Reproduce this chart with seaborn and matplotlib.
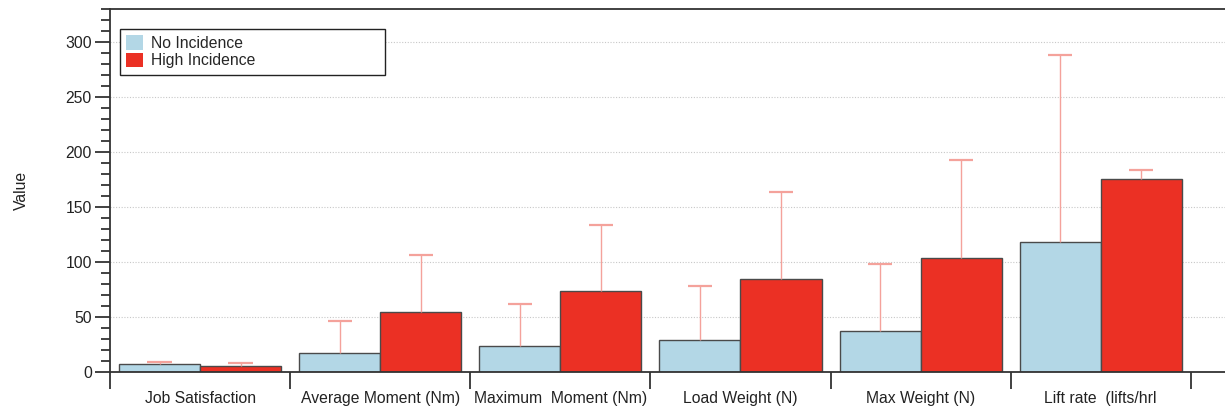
import matplotlib
matplotlib.use("Agg")
import matplotlib.pyplot as plt
import seaborn as sns
import pandas as pd
import numpy as np
from matplotlib.ticker import FixedLocator, MultipleLocator, NullFormatter

categories = ["Job Satisfaction", "Average Moment (Nm)", "Maximum  Moment (Nm)",
              "Load Weight (N)", "Max Weight (N)", "Lift rate  (lifts/hrl"]
groups = ["No Incidence", "High Incidence"]
no_incidence = [7.0, 17.6, 23.4, 28.8, 37.0, 118.5]
no_incidence_sd = [2.4, 28.8, 38.4, 49.1, 60.9, 169.4]
high_incidence = [5.7, 54.9, 73.4, 84.6, 103.9, 175.5]
high_incidence_sd = [2.5, 51.1, 60.6, 79.1, 88.8, 8.5]

colors = ["#b3d7e6", "#eb3024"]
err_color = "#f4a29b"

df = pd.DataFrame({
    "Measure": categories * 2,
    "Group": [groups[0]] * len(categories) + [groups[1]] * len(categories),
    "Value": no_incidence + high_incidence,
})
sds = [no_incidence_sd, high_incidence_sd]

sns.set_style("white")
plt.rcParams["font.family"] = ["Liberation Sans", "DejaVu Sans"]
FS = 11.3

fig = plt.figure(figsize=(12.25, 4.09), dpi=100)
ax = fig.add_axes([110 / 1225, 37 / 409, 1115 / 1225, 363 / 409])

sns.barplot(data=df, x="Measure", y="Value", hue="Group", order=categories,
            hue_order=groups, palette=colors, width=0.9, saturation=1,
            edgecolor="#4a4a4a", linewidth=1.0, errorbar=None, ax=ax)

for cont, sd in zip(ax.containers, sds):
    for bar, e in zip(cont, sd):
        w = bar.get_width()
        xc = bar.get_x() + w / 2
        top = bar.get_height() + e
        ax.vlines(xc, bar.get_height(), top, color=err_color, linewidth=1.0,
                  zorder=1)
        ax.hlines(top, xc - 0.15 * w, xc + 0.15 * w, color=err_color,
                  linewidth=1.6, zorder=1)

ax.set_ylim(0, 330)
ax.set_xlim(-0.5, 5.69)

# y axis ticks
ax.yaxis.set_major_locator(MultipleLocator(50))
ax.yaxis.set_minor_locator(MultipleLocator(10))
ax.tick_params(axis="y", which="both", left=True)
ax.tick_params(axis="y", which="major", direction="out", length=11, width=1.3,
               color="#333333", labelsize=FS, pad=2, labelcolor="#222222")
ax.tick_params(axis="y", which="minor", direction="out", length=6.5, width=1.3,
               color="#333333")

# x axis: boundary ticks major, labels at centers (minor)
n = len(categories)
ax.xaxis.set_major_locator(FixedLocator(np.arange(-0.5, n, 1.0)))
ax.xaxis.set_major_formatter(NullFormatter())
ax.set_xticks(np.arange(n), labels=categories, minor=True)
ax.tick_params(axis="x", which="both", bottom=True)
ax.tick_params(axis="x", which="major", direction="out", length=12, width=1.3,
               color="#333333")
ax.tick_params(axis="x", which="minor", length=0, pad=14, labelsize=FS,
               labelcolor="#222222")

ax.set_xlabel("")
ax.set_ylabel("Value", fontsize=FS, color="#222222")
ax.yaxis.set_label_coords(-0.073, 0.5)

ax.grid(axis="y", which="major", linestyle=(0, (1, 1.5)), color="#c8c8c8",
        linewidth=0.8)
ax.grid(axis="x", visible=False)
ax.set_axisbelow(True)

for s in ["left", "top", "bottom"]:
    ax.spines[s].set_visible(True)
    ax.spines[s].set_color("#333333")
    ax.spines[s].set_linewidth(1.3)
ax.spines["right"].set_visible(False)

leg = ax.legend(loc="upper left", bbox_to_anchor=(0.009, 0.826, 0.2377, 0.119),
                mode="expand", fontsize=FS, frameon=True, fancybox=False,
                edgecolor="#222222", framealpha=1, handlelength=1.05,
                handleheight=1.05, handletextpad=0.55, borderpad=0.4,
                labelspacing=0.12, borderaxespad=0)
leg.get_frame().set_linewidth(1.0)
for h in leg.legend_handles:
    h.set_edgecolor("none")

fig.savefig("out.png", dpi=100)
